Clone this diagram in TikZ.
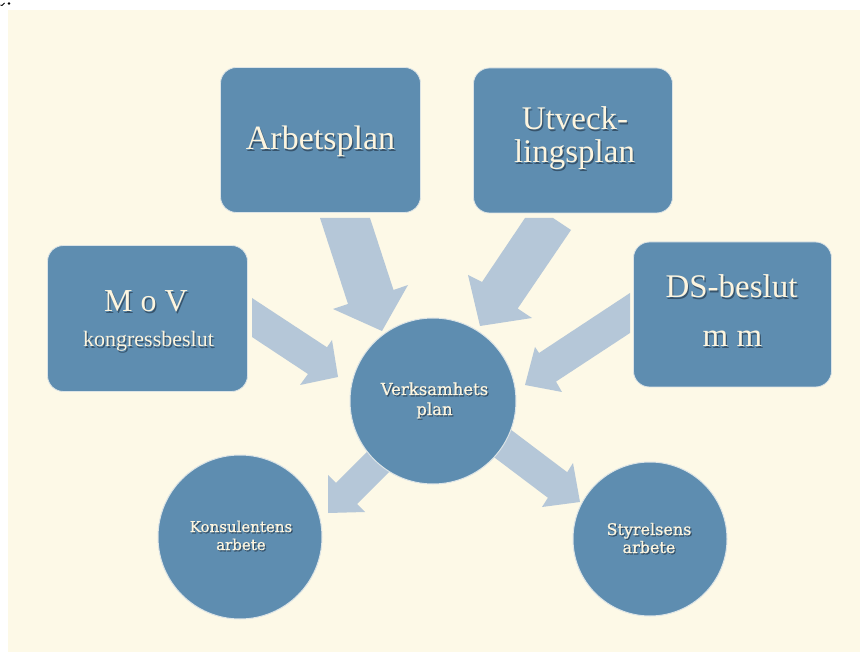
\documentclass[tikz,border=0pt]{standalone}
\usepackage{fontspec}
\setmainfont{Liberation Serif}
\newfontfamily\slabfont[FakeBold=0.7]{DejaVu Serif}
\definecolor{bgcream}{HTML}{FDF9E7}
\definecolor{boxblue}{HTML}{5E8DB0}
\definecolor{arrowblue}{HTML}{B5C7D8}
\definecolor{txtcream}{HTML}{FDF5DF}
\definecolor{txtshadow}{HTML}{2A4156}
\definecolor{edgelight}{HTML}{DCE4E6}
\tikzset{
  boxnode/.style={draw=edgelight, line width=0.8pt, fill=boxblue, rounded corners=16pt, inner sep=0pt},
  circnode/.style={circle, draw=edgelight, line width=1pt, fill=boxblue, inner sep=0pt},
  blockarrow/.style={fill=arrowblue},
  txtmain/.style={text=txtcream, anchor=base, inner sep=0pt},
  txtshade/.style={text=txtshadow, opacity=0.75, anchor=base, inner sep=0pt, xshift=1.2pt, yshift=-1.3pt},
}
\newcommand\shlabel[5]{%
  \node[txtshade, font=#4] at (#2,#3) {#5};
  \node[txtmain, font=#4] (#1) at (#2,#3) {#5};}
\begin{document}
\begin{tikzpicture}[x=1pt,y=-1pt]
\useasboundingbox (0,0) rectangle (860,652);
\fill[white] (0,0) rectangle (860,652);
\fill[bgcream] (8,10) rectangle (860,652);
\fill[black] (9,3.5) circle (1.4);
\draw[black, line width=0.8pt] (0.5,5) -- (2,5.5) -- (4.5,3);

% block arrows (drawn beneath the shapes)
\fill[blockarrow] (320,218) -- (370,218) -- (393.5,290) -- (408,285) -- (382,331) -- (333,309) -- (348,304) -- cycle;
\fill[blockarrow] (525,218) -- (553,218) -- (571,230) -- (517.7,308.5) -- (532,318) -- (480,326) -- (468,275) -- (482,282) -- cycle;
\fill[blockarrow] (252,298) -- (327,347.3) -- (332,340) -- (338,377) -- (300,385) -- (308,374) -- (252,337) -- cycle;
\fill[blockarrow] (630,293) -- (630,333) -- (556,381.6) -- (562,392) -- (525,385) -- (535,347) -- (539,353) -- cycle;
\fill[blockarrow] (395.9,422.9) -- (335.9,482.9) -- (328,475) -- (328,513) -- (365,512) -- (357.1,504.1) -- (417.1,444.1) -- cycle;
\fill[blockarrow] (487.3,411.9) -- (567.2,472.2) -- (573,463) -- (580,502) -- (542,507) -- (547.9,497.8) -- (468,437.5) -- cycle;

% boxes
\node[boxnode, minimum width=200pt, minimum height=145pt] (arb) at (320.5,140) {};
\node[boxnode, minimum width=199pt, minimum height=145pt] (utv) at (573,140.5) {};
\node[boxnode, minimum width=200pt, minimum height=146pt] (mov) at (147.5,318.5) {};
\node[boxnode, minimum width=198pt, minimum height=145pt] (ds) at (732.5,314.5) {};

% circles
\node[circnode, minimum size=166pt] (verk) at (433,401) {};
\node[circnode, minimum size=164pt] (kons) at (240,537) {};
\node[circnode, minimum size=154pt] (styr) at (650,539) {};

% texts
\shlabel{tarb}{320.5}{150}{\fontsize{34}{40}\selectfont}{Arbetsplan}
\shlabel{tutva}{575}{130}{\fontsize{33}{38}\selectfont}{Utveck-}
\shlabel{tutvb}{574.5}{163}{\fontsize{33}{38}\selectfont}{lingsplan}
\shlabel{tmova}{146}{312}{\fontsize{32}{38}\selectfont}{M o V}
\shlabel{tmovb}{148.5}{347}{\fontsize{22}{26}\selectfont}{kongressbeslut}
\shlabel{tdsa}{731.5}{298}{\fontsize{33}{38}\selectfont}{DS-beslut}
\shlabel{tdsb}{732.5}{347}{\fontsize{33}{38}\selectfont}{m m}
\shlabel{tverka}{434.5}{395}{\slabfont\fontsize{16.5}{20}\selectfont}{Verksamhets}
\shlabel{tverkb}{434.5}{415}{\slabfont\fontsize{16.5}{20}\selectfont}{plan}
\shlabel{tkonsa}{241}{532}{\slabfont\fontsize{15}{18}\selectfont}{Konsulentens}
\shlabel{tkonsb}{241}{550}{\slabfont\fontsize{15}{18}\selectfont}{arbete}
\shlabel{tstyra}{649}{535}{\slabfont\fontsize{16}{19}\selectfont}{Styrelsens}
\shlabel{tstyrb}{649}{553}{\slabfont\fontsize{16}{19}\selectfont}{arbete}
\end{tikzpicture}
\end{document}
